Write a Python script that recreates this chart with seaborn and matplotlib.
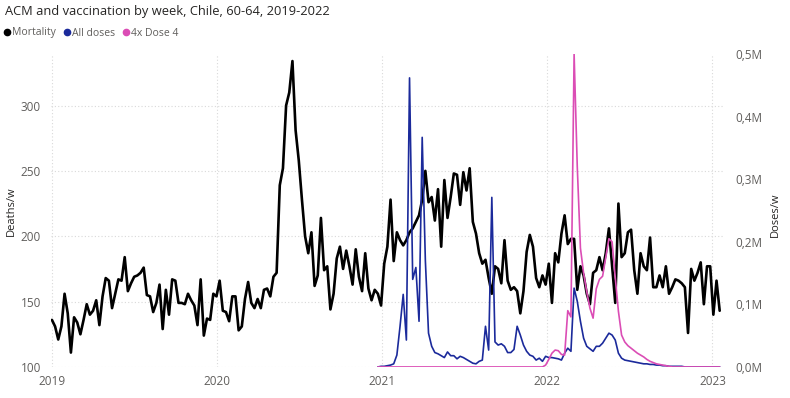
import matplotlib
matplotlib.use("Agg")
import matplotlib.pyplot as plt
import matplotlib.dates as mdates
import pandas as pd
import seaborn as sns
from matplotlib.lines import Line2D
from matplotlib.ticker import FuncFormatter

# weekly all-cause deaths, 60-64, starting first week of 2019
mortality = [
    136, 131, 121, 131, 156, 141, 111, 138, 134, 125,
    136, 148, 140, 143, 151, 132, 154, 168, 166, 145,
    156, 167, 166, 184, 158, 164, 169, 170, 172, 176,
    155, 154, 142, 149, 163, 129, 159, 140, 167, 166,
    149, 149, 148, 156, 151, 147, 132, 167, 124, 137,
    136, 156, 154, 166, 143, 142, 135, 154, 154, 128,
    131, 152, 165, 149, 145, 152, 145, 159, 160, 154,
    169, 172, 239, 252, 300, 310, 334, 281, 258, 228,
    200, 187, 203, 162, 170, 214, 174, 177, 144, 156,
    183, 192, 175, 189, 177, 163, 190, 169, 158, 187,
    160, 151, 159, 156, 147, 179, 192, 228,
    181, 203, 197, 193, 197, 203, 206, 211, 216, 228,
    250, 226, 230, 212, 236, 192, 243, 214, 230, 248,
    247, 224, 249, 235, 252, 211, 202, 187, 179, 182,
    168, 156, 177, 175, 164, 197, 166, 159, 161, 158,
    141, 158, 188, 201, 192, 168, 161, 170, 163, 179,
    149, 187, 180, 202, 216, 194, 198, 198, 159, 177,
    170, 156, 148, 172, 174, 184, 174, 187, 206, 177,
    149, 225, 184, 187, 203, 205, 174, 156, 187, 177,
    174, 199, 161, 161, 170, 161, 177, 156, 161, 167,
    166, 164, 161, 126, 175, 166, 172, 180, 148, 177,
    177, 140, 166, 143,
]

# dose series start at week index 103 (turn of 2021); values in millions
VAX_START = 103
all_doses = [
    0.000, 0.001, 0.001, 0.002, 0.003, 0.005, 0.019, 0.065, 0.116, 0.043,
    0.462, 0.140, 0.159, 0.073, 0.367, 0.170, 0.054, 0.033, 0.023, 0.021,
    0.018, 0.015, 0.024, 0.018, 0.018, 0.013, 0.017, 0.015, 0.012, 0.009,
    0.006, 0.005, 0.009, 0.011, 0.065, 0.027, 0.271, 0.040, 0.035, 0.037,
    0.033, 0.023, 0.023, 0.028, 0.065, 0.051, 0.035, 0.025, 0.019, 0.017,
    0.011, 0.014, 0.009, 0.017, 0.015, 0.015, 0.014, 0.013, 0.011, 0.022,
    0.030, 0.025, 0.126, 0.105, 0.073, 0.046, 0.033, 0.029, 0.025, 0.033,
    0.033, 0.038, 0.046, 0.054, 0.051, 0.043, 0.022, 0.014, 0.011, 0.010,
    0.009, 0.008, 0.007, 0.006, 0.005, 0.005, 0.004, 0.004, 0.003, 0.003,
    0.002, 0.002, 0.001, 0.001, 0.001, 0.001, 0.001, 0.000, 0.000, 0.000,
    0.000, 0.000, 0.000, 0.000, 0.000, 0.000, 0.000, 0.000, 0.000,
]
dose4_x4 = [
    0.000, 0.000, 0.000, 0.000, 0.000, 0.000, 0.000, 0.000, 0.000, 0.000,
    0.000, 0.000, 0.000, 0.000, 0.000, 0.000, 0.000, 0.000, 0.000, 0.000,
    0.000, 0.000, 0.000, 0.000, 0.000, 0.000, 0.000, 0.000, 0.000, 0.000,
    0.000, 0.000, 0.000, 0.000, 0.000, 0.000, 0.000, 0.000, 0.000, 0.000,
    0.000, 0.000, 0.000, 0.000, 0.000, 0.000, 0.000, 0.000, 0.000, 0.000,
    0.000, 0.000, 0.000, 0.003, 0.012, 0.022, 0.027, 0.026, 0.020, 0.019,
    0.090, 0.080, 0.500, 0.320, 0.190, 0.150, 0.120, 0.094, 0.078, 0.125,
    0.140, 0.145, 0.175, 0.205, 0.200, 0.143, 0.089, 0.051, 0.040, 0.034,
    0.030, 0.026, 0.022, 0.019, 0.016, 0.012, 0.009, 0.007, 0.005, 0.004,
    0.003, 0.002, 0.001, 0.000, 0.000, 0.000, 0.000, 0.000, 0.000, 0.000,
    0.000, 0.000, 0.000, 0.000, 0.000, 0.000, 0.000, 0.000, 0.000,
]

year_ticks = ["2019", "2020", "2021", "2022", "2023"]

BLACK = "#000000"
BLUE = "#1B2A9B"
PINK = "#DB4DB5"
TXT = "#605E5C"
GRID = "#D9D9D9"

weeks = pd.date_range("2019-01-01", periods=len(mortality), freq="7D")
df_m = pd.DataFrame({"week": weeks, "deaths": mortality})
df_v = pd.DataFrame({
    "week": weeks[VAX_START:VAX_START + len(all_doses)],
    "all_doses": [v * 1e6 for v in all_doses],
    "dose4": [v * 1e6 for v in dose4_x4],
})

sns.set_theme(style="white")
plt.rcParams["font.family"] = ["Open Sans", "DejaVu Sans"]

fig = plt.figure(figsize=(7.9, 3.98), dpi=100)
ax = fig.add_axes([0.064, 0.078, 0.851, 0.786])
ax2 = ax.twinx()

sns.lineplot(data=df_m, x="week", y="deaths", color=BLACK, lw=1.9, ax=ax)
sns.lineplot(data=df_v, x="week", y="all_doses", color=BLUE, lw=1.2, ax=ax2)
sns.lineplot(data=df_v, x="week", y="dose4", color=PINK, lw=1.2, ax=ax2)

ax.set_xlim(pd.Timestamp("2018-12-29"), pd.Timestamp("2023-01-24"))
ax.set_ylim(100, 339.3)
ax2.set_ylim(0, 500000)

ax.set_xticks([pd.Timestamp(f"{y}-01-01") for y in year_ticks])
ax.xaxis.set_major_formatter(mdates.DateFormatter("%Y"))
ax.set_yticks([100, 150, 200, 250, 300])
ax2.set_yticks([0, 100000, 200000, 300000, 400000, 500000])
ax2.yaxis.set_major_formatter(FuncFormatter(lambda v, p: f"{v / 1e6:.1f}M".replace(".", ",")))

for a in (ax, ax2):
    for s in a.spines.values():
        s.set_visible(False)
    a.set_xlabel("")
    a.set_ylabel("")
ax.tick_params(axis="x", length=0, pad=6, labelsize=8.5, labelcolor=TXT)
ax.tick_params(axis="y", length=0, pad=7, labelsize=8.5, labelcolor=TXT)
ax2.tick_params(axis="y", length=0, pad=9, labelsize=8.5, labelcolor=TXT)

ax.grid(True, axis="both", linestyle=(0, (1, 2)), color=GRID, lw=0.8)
ax2.grid(False)

fig.text(11 / 790, 0.47, "Deaths/w", rotation=90, ha="center", va="center", fontsize=8, color="#252423")
fig.text(775 / 790, 0.46, "Doses/w", rotation=90, ha="center", va="center", fontsize=8, color="#252423")

fig.text(5 / 790, 1 - 11 / 398, "ACM and vaccination by week, Chile, 60-64, 2019-2022",
         ha="left", va="center", fontsize=9.3, color="#252423")

handles = [Line2D([], [], marker="o", ls="", color=c, markersize=4.5) for c in (BLACK, BLUE, PINK)]
fig.legend(handles, ["Mortality", "All doses", "4x Dose 4"], loc="center left",
           bbox_to_anchor=(4 / 790, 1 - 33 / 398), ncol=3, frameon=False,
           handlelength=0.5, handletextpad=0.25, columnspacing=0.8,
           borderaxespad=0, borderpad=0, fontsize=7.5, labelcolor=TXT)

fig.savefig("out.png", dpi=100)
